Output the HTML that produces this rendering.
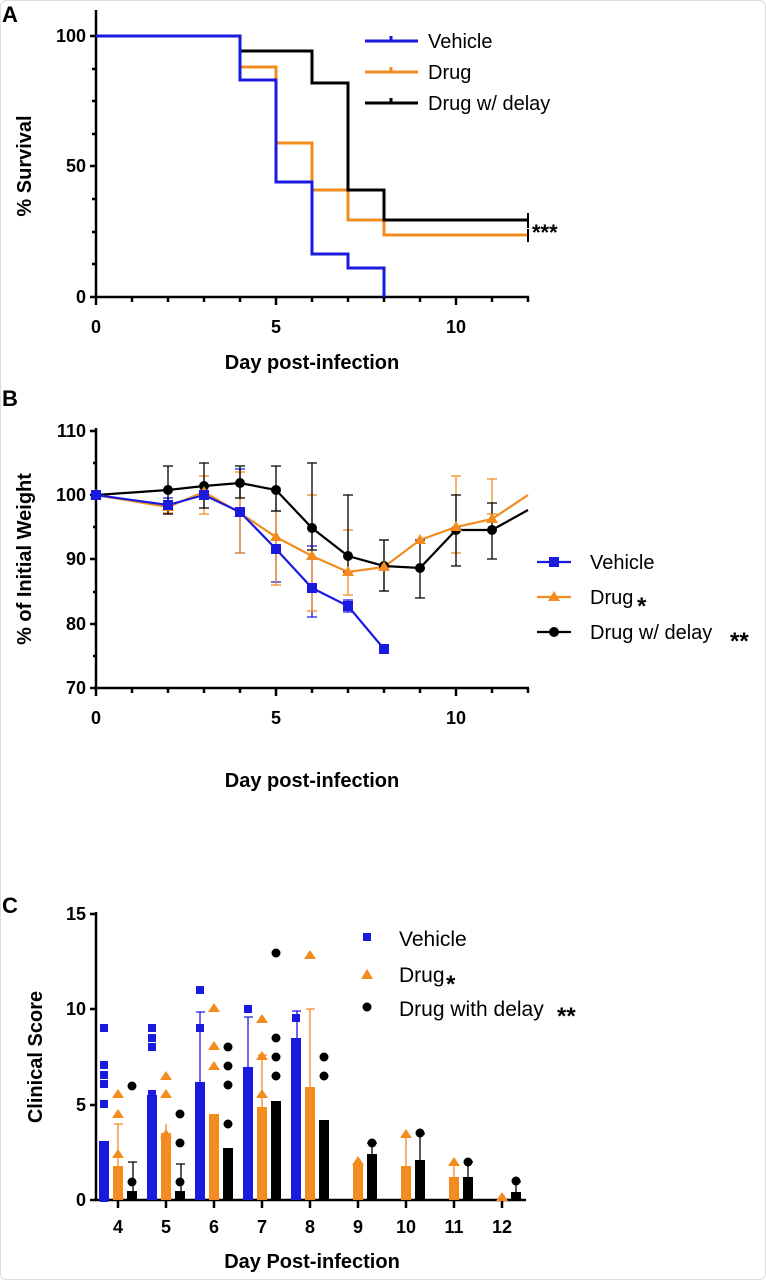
<!DOCTYPE html>
<html><head><meta charset="utf-8"><style>
body{margin:0;background:#fff;}
svg{display:block;font-family:"Liberation Sans",Arial,sans-serif;}
</style></head><body>
<svg width="766" height="1280" viewBox="0 0 766 1280" xmlns="http://www.w3.org/2000/svg">
<rect x="0.5" y="0.5" width="765" height="1279" fill="#fff" stroke="#ddd" rx="6"/>
<!-- Panel A -->
<text x="2" y="22" font-size="22" font-weight="bold">A</text>
<g stroke="#000" stroke-width="2.5" fill="none">
<path d="M96,10 V297 H529"/>
<path d="M90,36 H96 M90,166 H96 M90,297 H96 M92,69 H96 M92,101 H96 M92,134 H96 M92,199 H96 M92,232 H96 M92,264 H96"/>
<path d="M96,297 V305 M132,297 V302 M168,297 V302 M204,297 V302 M240,297 V302 M276,297 V305 M312,297 V302 M348,297 V302 M384,297 V302 M420,297 V302 M456,297 V305 M492,297 V302 M528,297 V302"/>
</g>
<g font-size="18" font-weight="bold" text-anchor="end"><text x="86" y="42">100</text><text x="86" y="172">50</text><text x="86" y="303">0</text></g>
<g font-size="18" font-weight="bold" text-anchor="middle"><text x="96" y="333">0</text><text x="276" y="333">5</text><text x="456" y="333">10</text></g>
<text x="312" y="369" font-size="20" font-weight="bold" text-anchor="middle">Day  post-infection</text>
<text transform="translate(31,166) rotate(-90)" font-size="20" font-weight="bold" text-anchor="middle">% Survival</text>
<path d="M240,67 H276 V143 H312 V190 H348 V220 H384 V235 H528" stroke="#f28c1f" stroke-width="3" fill="none"/>
<path d="M96,36 H240 V51 H312 V83 H348 V190 H384 V220 H528" stroke="#000" stroke-width="3" fill="none"/>
<path d="M96,36 H240 V80 H276 V182 H312 V254 H348 V268 H384 V297" stroke="#1a1adf" stroke-width="3" fill="none"/>
<path d="M528,213 V228 M528,229 V242" stroke="#000" stroke-width="2"/>
<text x="532" y="240" font-size="22" font-weight="bold">***</text>
<g font-size="20"><path d="M365,41 H418 M391,36 V41" stroke="#1a1adf" stroke-width="3"/><text x="428" y="48">Vehicle</text>
<path d="M365,72 H418 M391,67 V72" stroke="#f28c1f" stroke-width="3"/><text x="428" y="79">Drug</text>
<path d="M365,103 H418 M391,98 V103" stroke="#000" stroke-width="3"/><text x="428" y="110">Drug w/ delay</text></g>

<!-- Panel B -->
<text x="2" y="406" font-size="22" font-weight="bold">B</text>
<g stroke="#000" stroke-width="2.5" fill="none">
<path d="M96,428 V688 H529"/>
<path d="M90,431 H96 M90,495 H96 M90,559 H96 M90,624 H96 M90,688 H96 M93,463 H96 M93,527 H96 M93,592 H96 M93,656 H96"/>
<path d="M96,688 V696 M132,688 V693 M168,688 V693 M204,688 V693 M240,688 V693 M276,688 V696 M312,688 V693 M348,688 V693 M384,688 V693 M420,688 V693 M456,688 V696 M492,688 V693 M528,688 V693"/>
</g>
<g font-size="18" font-weight="bold" text-anchor="end"><text x="86" y="437">110</text><text x="86" y="501">100</text><text x="86" y="565">90</text><text x="86" y="630">80</text><text x="86" y="694">70</text></g>
<g font-size="18" font-weight="bold" text-anchor="middle"><text x="96" y="724">0</text><text x="276" y="724">5</text><text x="456" y="724">10</text></g>
<text x="312" y="787" font-size="20" font-weight="bold" text-anchor="middle">Day post-infection</text>
<text transform="translate(31,559) rotate(-90)" font-size="20" font-weight="bold" text-anchor="middle">% of Initial Weight</text>
<g stroke-width="1.3" fill="none">
<path stroke="#1a1adf" d="M168,498 V514 M163,498 H173 M163,514 H173 M240,469 V553 M235,469 H245 M235,553 H245 M276,511 V582 M271,511 H281 M271,582 H281 M312,546 V617 M307,546 H317 M307,617 H317 M348,600 V612 M343,600 H353 M343,612 H353"/>
<path stroke="#f28c1f" d="M168,501 V513 M163,501 H173 M163,513 H173 M204,476 V514 M199,476 H209 M199,514 H209 M240,472 V553 M235,472 H245 M235,553 H245 M276,488 V585 M271,488 H281 M271,585 H281 M312,495 V611 M307,495 H317 M307,611 H317 M348,530 V595 M343,530 H353 M343,595 H353 M384,540 V591 M379,540 H389 M379,591 H389 M456,476 V553 M451,476 H461 M451,553 H461 M492,479 V514 M487,479 H497 M487,514 H497"/>
<path stroke="#000" d="M168,466 V514 M163,466 H173 M163,514 H173 M204,463 V508 M199,463 H209 M199,508 H209 M240,466 V498 M235,466 H245 M235,498 H245 M276,466 V511 M271,466 H281 M271,511 H281 M312,463 V550 M307,463 H317 M307,550 H317 M348,495 V572 M343,495 H353 M343,572 H353 M384,540 V591 M379,540 H389 M379,591 H389 M420,540 V598 M415,540 H425 M415,598 H425 M456,495 V566 M451,495 H461 M451,566 H461 M492,503 V559 M487,503 H497 M487,559 H497"/>
</g>
<path d="M96,495 L168,507 L204,492 L240,513 L276,537 L312,556 L348,572 L384,567 L420,540 L456,527 L492,519 L528,495" stroke="#f28c1f" stroke-width="2.2" fill="none"/>
<path d="M96,495 L168,490 L204,486 L240,483 L276,490 L312,528 L348,556 L384,566 L420,568 L456,530 L492,530 L528,510" stroke="#000" stroke-width="2.2" fill="none"/>
<path d="M96,495 L168,505 L204,495 L240,512 L276,549 L312,588 L348,606 L384,649" stroke="#1a1adf" stroke-width="2.2" fill="none"/>
<g fill="#000"><circle cx="96" cy="495" r="5"/><circle cx="168" cy="490" r="5"/><circle cx="204" cy="486" r="5"/><circle cx="240" cy="483" r="5"/><circle cx="276" cy="490" r="5"/><circle cx="312" cy="528" r="5"/><circle cx="348" cy="556" r="5"/><circle cx="384" cy="566" r="5"/><circle cx="420" cy="568" r="5"/><circle cx="456" cy="530" r="5"/><circle cx="492" cy="530" r="5"/></g>
<g fill="#f28c1f"><path d="M96,489 l6,10 h-12z M168,501 l6,10 h-12z M204,486 l6,10 h-12z M240,507 l6,10 h-12z M276,531 l6,10 h-12z M312,550 l6,10 h-12z M348,566 l6,10 h-12z M384,561 l6,10 h-12z M420,534 l6,10 h-12z M456,521 l6,10 h-12z M492,513 l6,10 h-12z"/></g>
<g fill="#1a1adf"><rect x="91" y="490" width="10" height="10"/><rect x="163" y="500" width="10" height="10"/><rect x="199" y="490" width="10" height="10"/><rect x="235" y="507" width="10" height="10"/><rect x="271" y="544" width="10" height="10"/><rect x="307" y="583" width="10" height="10"/><rect x="343" y="601" width="10" height="10"/><rect x="379" y="644" width="10" height="10"/></g>
<g font-size="20">
<path d="M537,562 H571" stroke="#1a1adf" stroke-width="2.2"/><rect x="549" y="557" width="10" height="10" fill="#1a1adf"/><text x="590" y="569">Vehicle</text>
<path d="M537,597 H571" stroke="#f28c1f" stroke-width="2.2"/><path d="M554,591 l6,10 h-12z" fill="#f28c1f"/><text x="590" y="604">Drug</text><text x="637" y="614" font-weight="bold" font-size="24">*</text>
<path d="M537,632 H571" stroke="#000" stroke-width="2.2"/><circle cx="554" cy="632" r="5"/><text x="590" y="639">Drug w/ delay</text><text x="730" y="649" font-weight="bold" font-size="24">**</text>
</g>

<!-- Panel C -->
<text x="2" y="913" font-size="22" font-weight="bold">C</text>
<g stroke="#000" stroke-width="2.5" fill="none">
<path d="M96,912 V1200 H526"/>
<path d="M90,914 H96 M90,1009 H96 M90,1105 H96 M90,1200 H96"/>
<path d="M118,1200 V1208 M166,1200 V1208 M214,1200 V1208 M262,1200 V1208 M310,1200 V1208 M358,1200 V1208 M406,1200 V1208 M454,1200 V1208 M502,1200 V1208"/>
</g>
<g font-size="18" font-weight="bold" text-anchor="end"><text x="86" y="920">15</text><text x="86" y="1015">10</text><text x="86" y="1111">5</text><text x="86" y="1206">0</text></g>
<g font-size="18" font-weight="bold" text-anchor="middle"><text x="118" y="1233">4</text><text x="166" y="1233">5</text><text x="214" y="1233">6</text><text x="262" y="1233">7</text><text x="310" y="1233">8</text><text x="358" y="1233">9</text><text x="406" y="1233">10</text><text x="454" y="1233">11</text><text x="502" y="1233">12</text></g>
<text x="312" y="1268" font-size="20" font-weight="bold" text-anchor="middle">Day Post-infection</text>
<text transform="translate(42,1057) rotate(-90)" font-size="20" font-weight="bold" text-anchor="middle">Clinical Score</text>
<g fill="#1a1adf"><rect x="99" y="1141" width="10" height="59"/><rect x="147" y="1095" width="10" height="105"/><rect x="195" y="1082" width="10" height="118"/><rect x="243" y="1067" width="10" height="133"/><rect x="291" y="1038" width="10" height="162"/></g>
<g fill="#f28c1f"><rect x="113" y="1166" width="10" height="34"/><rect x="161" y="1133" width="10" height="67"/><rect x="209" y="1114" width="10" height="86"/><rect x="257" y="1107" width="10" height="93"/><rect x="305" y="1087" width="10" height="113"/><rect x="353" y="1164" width="10" height="36"/><rect x="401" y="1166" width="10" height="34"/><rect x="449" y="1177" width="10" height="23"/></g>
<g fill="#000"><rect x="127" y="1191" width="10" height="9"/><rect x="175" y="1191" width="10" height="9"/><rect x="223" y="1148" width="10" height="52"/><rect x="271" y="1101" width="10" height="99"/><rect x="319" y="1120" width="10" height="80"/><rect x="367" y="1154" width="10" height="46"/><rect x="415" y="1160" width="10" height="40"/><rect x="463" y="1177" width="10" height="23"/><rect x="511" y="1192" width="10" height="8"/></g>
<g stroke-width="1.3" fill="none">
<path stroke="#1a1adf" d="M200,1012 V1082 M196,1012 H205 M248,1017 V1067 M244,1017 H253 M297,1011 V1038 M292,1011 H301"/>
<path stroke="#f28c1f" d="M118,1124 V1166 M114,1124 H123 M166,1124 V1133 M262,1055 V1107 M258,1055 H267 M310,1009 V1087 M306,1009 H315 M406,1133 V1166 M454,1163 V1177"/>
<path stroke="#000" d="M133,1162 V1191 M128,1162 H137 M181,1164 V1191 M176,1164 H185 M372,1143 V1154 M367,1143 H377 M420,1134 V1160 M416,1134 H425 M468,1162 V1177 M464,1162 H473 M516,1182 V1192 M512,1182 H521"/>
</g>
<g fill="#1a1adf">
<rect x="100" y="1024" width="8" height="8"/><rect x="100" y="1061" width="8" height="8"/><rect x="100" y="1071" width="8" height="8"/><rect x="100" y="1080" width="8" height="8"/><rect x="100" y="1100" width="8" height="8"/><rect x="100" y="1194" width="8" height="8"/>
<rect x="148" y="1024" width="8" height="8"/><rect x="148" y="1034" width="8" height="8"/><rect x="148" y="1043" width="8" height="8"/><rect x="148" y="1090" width="8" height="8"/><rect x="148" y="1185" width="8" height="8"/>
<rect x="196" y="986" width="8" height="8"/><rect x="196" y="1024" width="8" height="8"/><rect x="196" y="1138" width="8" height="8"/><rect x="196" y="1147" width="8" height="8"/>
<rect x="244" y="1005" width="8" height="8"/><rect x="292" y="1014" width="8" height="8"/>
</g>
<g fill="#f28c1f">
<path d="M118,1089 l6,9 h-12z M118,1109 l6,9 h-12z M118,1149 l6,9 h-12z M118,1190 l6,9 h-12z M166,1071 l6,9 h-12z M166,1089 l6,9 h-12z M166,1129 l6,9 h-12z M166,1190 l6,9 h-12z M214,1003 l6,9 h-12z M214,1041 l6,9 h-12z M214,1061 l6,9 h-12z M214,1190 l6,9 h-12z M262,1014 l6,9 h-12z M262,1051 l6,9 h-12z M262,1089 l6,9 h-12z M310,950 l6,9 h-12z M358,1156 l6,9 h-12z M406,1129 l6,9 h-12z M454,1157 l6,9 h-12z M502,1192 l6,9 h-12z"/>
</g>
<g fill="#000">
<circle cx="132" cy="1086" r="4.5"/><circle cx="132" cy="1182" r="4.5"/><circle cx="132" cy="1196" r="4.5"/>
<circle cx="180" cy="1114" r="4.5"/><circle cx="180" cy="1143" r="4.5"/><circle cx="180" cy="1182" r="4.5"/>
<circle cx="228" cy="1047" r="4.5"/><circle cx="228" cy="1066" r="4.5"/><circle cx="228" cy="1085" r="4.5"/><circle cx="228" cy="1124" r="4.5"/><circle cx="228" cy="1162" r="4.5"/><circle cx="228" cy="1182" r="4.5"/>
<circle cx="276" cy="953" r="4.5"/><circle cx="276" cy="1038" r="4.5"/><circle cx="276" cy="1057" r="4.5"/><circle cx="276" cy="1076" r="4.5"/><circle cx="276" cy="1152" r="4.5"/><circle cx="276" cy="1182" r="4.5"/>
<circle cx="324" cy="1057" r="4.5"/><circle cx="324" cy="1076" r="4.5"/><circle cx="324" cy="1162" r="4.5"/>
<circle cx="372" cy="1143" r="4.5"/><circle cx="420" cy="1133" r="4.5"/><circle cx="468" cy="1162" r="4.5"/><circle cx="516" cy="1181" r="4.5"/>
</g>
<g font-size="21">
<rect x="363" y="933" width="8" height="8" fill="#1a1adf"/><text x="399" y="946">Vehicle</text>
<path d="M367,969 l6,10 h-12z" fill="#f28c1f"/><text x="399" y="982">Drug</text><text x="446" y="992" font-weight="bold" font-size="24">*</text>
<circle cx="367" cy="1007" r="4.5" fill="#000"/><text x="399" y="1016">Drug with delay</text><text x="557" y="1024" font-weight="bold" font-size="24">**</text>
</g>
</svg>
</body></html>
